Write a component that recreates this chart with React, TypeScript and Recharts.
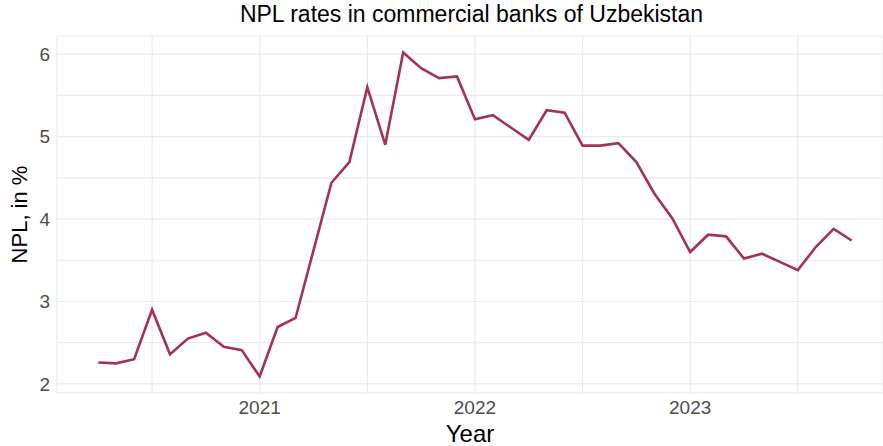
import { LineChart, Line, XAxis, YAxis, CartesianGrid, Label } from 'recharts';

// monthly NPL ratio, Apr 2020 .. Oct 2023
const months = [
  '2020-04', '2020-05', '2020-06', '2020-07', '2020-08', '2020-09', '2020-10', '2020-11', '2020-12',
  '2021-01', '2021-02', '2021-03', '2021-04', '2021-05', '2021-06', '2021-07', '2021-08', '2021-09',
  '2021-10', '2021-11', '2021-12', '2022-01', '2022-02', '2022-03', '2022-04', '2022-05', '2022-06',
  '2022-07', '2022-08', '2022-09', '2022-10', '2022-11', '2022-12', '2023-01', '2023-02', '2023-03',
  '2023-04', '2023-05', '2023-06', '2023-07', '2023-08', '2023-09', '2023-10',
];
const npl = [
  2.26, 2.25, 2.3, 2.9, 2.36, 2.55, 2.62, 2.45, 2.41,
  2.09, 2.69, 2.8, 3.62, 4.44, 4.69, 5.6, 4.9, 6.02,
  5.83, 5.71, 5.73, 5.21, 5.26, 5.11, 4.96, 5.32, 5.29,
  4.89, 4.89, 4.92, 4.69, 4.31, 4.01, 3.6, 3.81, 3.79,
  3.52, 3.58, 3.48, 3.38, 3.66, 3.88, 3.74,
];
// x ticks: half-year gridlines, labels only on January
const xTicks = ['2020-07', '2021-01', '2021-07', '2022-01', '2022-07', '2023-01', '2023-07'];
const yTicks = [2, 2.5, 3, 3.5, 4, 4.5, 5, 5.5, 6];

const data = months.map((m, i) => ({ t: i, month: m, npl: npl[i] }));
const xTickIdx = xTicks.map((m) => months.indexOf(m));

const FONT = '"Liberation Sans", Arial, sans-serif';

export default function App() {
  return (
    <div style={{ position: 'absolute', left: 0, top: 0, width: 883, height: 446, background: '#fff', fontFamily: FONT }}>
      <div
        style={{
          position: 'absolute',
          top: 1,
          left: 0,
          width: 883,
          paddingLeft: 60,
          boxSizing: 'border-box',
          textAlign: 'center',
          fontSize: 23,
          color: '#000',
        }}
      >
        NPL rates in commercial banks of Uzbekistan
      </div>
      <LineChart width={883} height={446} data={data} margin={{ top: 36, right: 0, bottom: 0, left: 0 }}>
        <CartesianGrid stroke="#ebebeb" strokeWidth={1.2} />
        <XAxis
          dataKey="t"
          type="number"
          domain={[-2.3, 43.75]}
          ticks={xTickIdx}
          tickFormatter={(v: number) => {
            const m = months[v];
            return m && m.endsWith('-01') ? m.slice(0, 4) : '';
          }}
          axisLine={false}
          tickLine={false}
          tickSize={0}
          tickMargin={8}
          height={53}
          tick={{ fill: '#4d4d4d', fontSize: 19, fontFamily: FONT }}
          allowDataOverflow
        >
          <Label value="Year" position="insideBottom" offset={4} style={{ fill: '#000', fontSize: 24, fontFamily: FONT }} />
        </XAxis>
        <YAxis
          type="number"
          domain={[1.89, 6.22]}
          ticks={yTicks}
          tickFormatter={(v: number) => (Number.isInteger(v) ? String(v) : '')}
          axisLine={false}
          tickLine={false}
          tickSize={0}
          tickMargin={7}
          width={57}
          tick={{ fill: '#4d4d4d', fontSize: 19, fontFamily: FONT }}
          allowDataOverflow
        >
          <Label
            value="NPL, in %"
            angle={-90}
            position="insideLeft"
            offset={19}
            style={{ textAnchor: 'middle', fill: '#000', fontSize: 22, fontFamily: FONT }}
          />
        </YAxis>
        <Line
          type="linear"
          dataKey="npl"
          stroke="#a3305f"
          strokeWidth={2.6}
          dot={false}
          isAnimationActive={false}
        />
      </LineChart>
    </div>
  );
}
